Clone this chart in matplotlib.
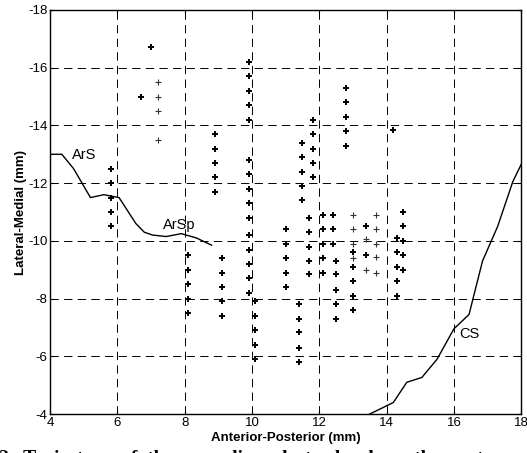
import numpy as np
import matplotlib
matplotlib.use('Agg')
import matplotlib.pyplot as plt

plt.rcParams['font.family'] = ['Liberation Sans', 'DejaVu Sans']
plt.rcParams['lines.scale_dashes'] = False
plt.rcParams['axes.unicode_minus'] = False

# recording sites, bold crosses (x = anterior-posterior, y = lateral-medial)
bold_x = [5.8, 5.8, 5.8, 5.8, 5.8,
          6.7, 7.0,
          8.1, 8.1, 8.1, 8.1, 8.1,
          8.9, 8.9, 8.9, 8.9, 8.9,
          9.1, 9.1, 9.1, 9.1, 9.1,
          9.9, 9.9, 9.9, 9.9, 9.9,
          9.9, 9.9, 9.9, 9.9, 9.9,
          9.9, 9.9, 9.9, 9.9, 9.9,
          10.1, 10.1, 10.1, 10.1, 10.1,
          11.0, 11.0, 11.0, 11.0, 11.0,
          11.4, 11.4, 11.4, 11.4, 11.4,
          11.5, 11.5, 11.5, 11.5, 11.5,
          11.7, 11.7, 11.7, 11.7, 11.7,
          11.8, 11.8, 11.8, 11.8, 11.8,
          12.1, 12.1, 12.1, 12.1, 12.1,
          12.4, 12.4, 12.4,
          12.5, 12.5, 12.5, 12.5, 12.5,
          12.8, 12.8, 12.8, 12.8, 12.8,
          13.0, 13.0, 13.0, 13.0, 13.0,
          13.4, 13.4,
          14.2,
          14.3, 14.3, 14.3, 14.3, 14.3,
          14.5, 14.5, 14.5, 14.5, 14.5]
bold_y = [-12.5, -12.0, -11.5, -11.0, -10.5,
          -15.0, -16.7,
          -9.5, -9.0, -8.5, -8.0, -7.5,
          -13.7, -13.2, -12.7, -12.2, -11.7,
          -9.4, -8.9, -8.4, -7.9, -7.4,
          -16.2, -15.7, -15.2, -14.7, -14.2,
          -12.8, -12.3, -11.8, -11.3, -10.8,
          -10.2, -9.7, -9.2, -8.7, -8.2,
          -7.9, -7.4, -6.9, -6.4, -5.9,
          -10.4, -9.9, -9.4, -8.9, -8.4,
          -7.8, -7.3, -6.85, -6.3, -5.8,
          -13.4, -12.9, -12.4, -11.9, -11.4,
          -10.8, -10.3, -9.8, -9.3, -8.85,
          -14.2, -13.7, -13.2, -12.7, -12.2,
          -10.9, -10.4, -9.9, -9.4, -8.9,
          -10.9, -10.4, -9.9,
          -9.3, -8.85, -8.3, -7.8, -7.3,
          -15.3, -14.8, -14.3, -13.8, -13.3,
          -9.6, -9.1, -8.6, -8.1, -7.6,
          -10.5, -9.5,
          -13.85,
          -10.1, -9.6, -9.1, -8.6, -8.1,
          -11.0, -10.5, -10.0, -9.5, -9.0]

# fainter crosses
thin_x = [7.2, 7.2, 7.2, 7.2,
          13.0, 13.0, 13.0, 13.0,
          13.4, 13.4,
          13.7, 13.7, 13.7, 13.7, 13.7]
thin_y = [-15.5, -15.0, -14.5, -13.5,
          -10.9, -10.4, -9.9, -9.4,
          -10.05, -9.0,
          -10.9, -10.4, -9.9, -9.45, -8.9]

# sulcus outlines
ars_x = [4.0, 4.35, 4.7, 5.2, 5.6, 6.05, 6.55, 6.8, 7.05, 7.45, 7.9, 8.35, 8.8]
ars_y = [-13.0, -13.0, -12.5, -11.5, -11.6, -11.5, -10.6, -10.3, -10.2, -10.15, -10.25, -10.1, -9.85]
cs_x = [13.5, 14.2, 14.6, 15.05, 15.5, 16.0, 16.45, 16.85, 17.3, 17.75, 18.0]
cs_y = [-4.0, -4.4, -5.1, -5.27, -5.9, -6.95, -7.45, -9.3, -10.5, -12.05, -12.65]

fig = plt.figure(figsize=(5.27, 4.53), dpi=100)
ax = fig.add_axes([0.095, 0.086, 0.894, 0.892])

ax.plot(ars_x, ars_y, color='black', lw=1.0)
ax.plot(cs_x, cs_y, color='black', lw=1.0)
ax.plot(bold_x, bold_y, '+', color='black', ms=4.6, mew=1.4, ls='none')
ax.plot(thin_x, thin_y, '+', color='#333333', ms=4.4, mew=0.8, ls='none')

ax.text(4.65, -12.85, 'ArS', fontsize=10.5)
ax.text(7.35, -10.4, 'ArSp', fontsize=10.5)
ax.text(16.15, -6.65, 'CS', fontsize=10.5)

ax.set_xlim(4, 18)
ax.set_ylim(-4, -18)
ax.set_xticks(np.arange(4, 19, 2))
ax.set_yticks(np.arange(-18, -3, 2))
ax.grid(True, color='black', lw=0.7, ls=(0, (6, 3.8)))
ax.tick_params(direction='in', top=True, right=True, length=3, labelsize=9.5, pad=2)
for sp in ax.spines.values():
    sp.set_linewidth(1.0)

ax.set_xlabel('Anterior-Posterior (mm)', fontsize=9.5, fontweight='bold', labelpad=2)
ax.set_ylabel('Lateral-Medial (mm)', fontsize=9.5, fontweight='bold', labelpad=1)

# caption line cut off at the bottom of the image
fig.text(-0.002, -0.03, '2.  Trajectory  of  the  recording  electrode  along  the  cortex',
         fontsize=14, fontweight='bold', family='Liberation Serif', va='bottom', ha='left')

fig.savefig('out.png', dpi=100)
